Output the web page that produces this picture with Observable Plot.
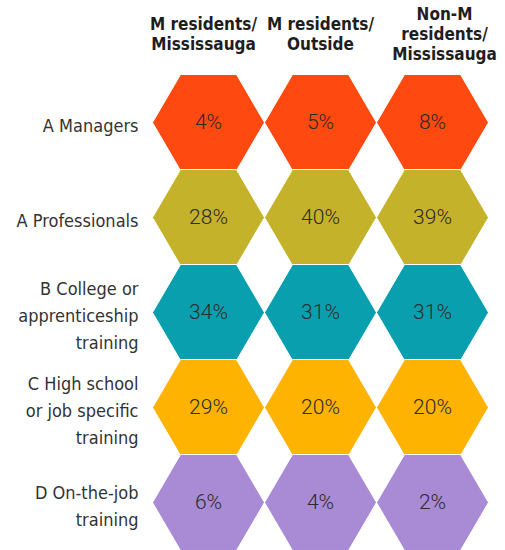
<!DOCTYPE html>
<html>
<head>
<meta charset="utf-8">
<script src="https://cdn.jsdelivr.net/npm/d3@7"></script>
<script src="https://cdn.jsdelivr.net/npm/@observablehq/plot@0.6"></script>
<style>
  html, body { margin: 0; padding: 0; background: #fff; }
  #chart svg { display: block; }
</style>
</head>
<body>
<div id="chart"></div>
<script>
const rows = [
  "A Managers",
  "A Professionals",
  "B College or\napprenticeship\ntraining",
  "C High school\nor job specific\ntraining",
  "D On-the-job\ntraining"
];
const columns = [
  "M residents/\nMississauga",
  "M residents/\nOutside",
  "Non-M\nresidents/\nMississauga"
];
const mResidentsMississauga = [4, 28, 34, 29, 6];
const mResidentsOutside = [5, 40, 31, 20, 4];
const nonMResidentsMississauga = [8, 39, 31, 20, 2];
const rowColors = ["#FE4A10", "#C5B22B", "#0A9FAF", "#FEB300", "#A98AD5"];

const seriesByColumn = [mResidentsMississauga, mResidentsOutside, nonMResidentsMississauga];
const cells = [];
columns.forEach((col, ci) => {
  rows.forEach((row, ri) => {
    cells.push({row, col, value: seriesByColumn[ci][ri]});
  });
});

// flat-top hexagon (pointy left/right)
const hexFlat = {
  draw(ctx, size) {
    const R = Math.sqrt(size / Math.PI);
    const h = R * 0.857;
    ctx.moveTo(R, 0);
    ctx.lineTo(R / 2, h);
    ctx.lineTo(-R / 2, h);
    ctx.lineTo(-R, 0);
    ctx.lineTo(-R / 2, -h);
    ctx.lineTo(R / 2, -h);
    ctx.closePath();
  }
};

const condensed = "'Liberation Sans Narrow', 'DejaVu Sans Condensed', 'Roboto Condensed', sans-serif";
const headerStyle = {
  x: d => d, text: d => d, frameAnchor: "top", lineAnchor: "middle",
  dy: 33, fontSize: 17, fontWeight: "bold", lineHeight: 1.2,
  fill: "#1e1e1e", fontFamily: condensed
};

const chart = Plot.plot({
  width: 505,
  height: 550,
  marginTop: 0, marginRight: 0, marginBottom: 0, marginLeft: 0,
  style: {background: "#fff", fontFamily: condensed},
  x: {type: "point", domain: columns, range: [208, 432], padding: 0, axis: null},
  y: {type: "point", domain: rows, range: [120, 503], padding: 0, axis: null},
  color: {type: "ordinal", domain: rows, range: rowColors},
  marks: [
    Plot.dot(cells, {
      x: "col", y: "row", fill: "row", r: 56, symbol: hexFlat,
      stroke: "#fff", strokeWidth: 1
    }),
    Plot.text(cells, {
      x: "col", y: "row", text: d => `${d.value}%`,
      fontSize: 21, fontWeight: 300, fontFamily: "Roboto, sans-serif",
      fill: "#2b2b2b", dy: 0
    }),
    Plot.text(rows, {
      y: d => d, text: d => d, frameAnchor: "left", textAnchor: "end",
      dx: 138, dy: 1, fontSize: 18, lineHeight: 1.5, fill: "#333",
      fontFamily: condensed
    }),
    Plot.text(columns, {...headerStyle, filter: (d, i) => i === 0, dx: -5}),
    Plot.text(columns, {...headerStyle, filter: (d, i) => i === 1}),
    Plot.text(columns, {...headerStyle, filter: (d, i) => i === 2, dx: 12})
  ]
});
document.getElementById("chart").appendChild(chart);
</script>
</body>
</html>
